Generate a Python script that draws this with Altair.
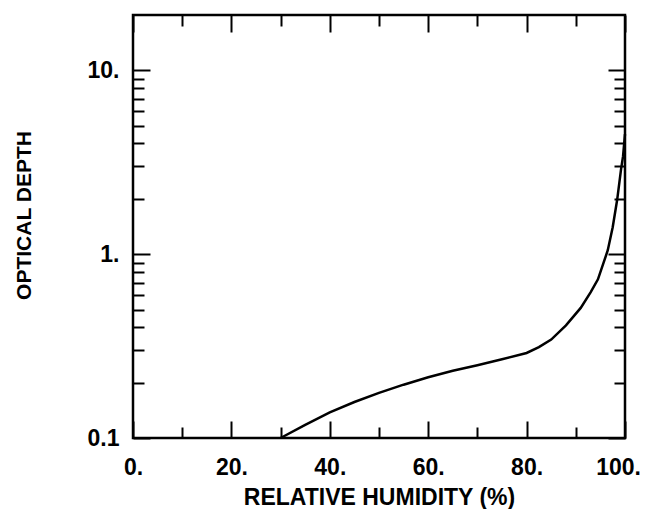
import altair as alt
import pandas as pd

# Curve
rh = [30, 35, 40, 45, 50, 55, 60, 65, 70, 75, 80, 82.5, 85, 88, 91, 93, 94.5, 96.5, 97.5, 98.4, 99.2, 99.6, 100]
tau = [0.100, 0.118, 0.138, 0.157, 0.176, 0.195, 0.214, 0.232, 0.249, 0.268, 0.290, 0.312, 0.343, 0.41, 0.51, 0.62, 0.73, 1.05, 1.4, 1.97, 2.9, 3.4, 4.5]

x_major = [0, 20, 40, 60, 80, 100]
x_minor = [10, 30, 50, 70, 90]
y_major = [0.1, 1, 10]
y_minor = [0.2, 0.3, 0.4, 0.5, 0.6, 0.7, 0.8, 0.9, 2, 3, 4, 5, 6, 7, 8, 9]

x_title = "RELATIVE HUMIDITY (%)"
y_title = "OPTICAL DEPTH"

df = pd.DataFrame({"rh": rh, "tau": tau})

FONT = "Liberation Sans"
W, H = 492, 423
XDOM = [0, 100]
YDOM = [0.1, 20]
MAJ, MIN = 17, 11


def tick_axis(orient, values, size, **kw):
    base = dict(orient=orient, values=values, tickSize=size, offset=-size,
                domain=False, grid=False, tickColor="black", tickWidth=2,
                labelFlush=False, labelOverlap=False)
    base.update(kw)
    if "labels" not in kw:
        base["labels"] = False
    if "title" not in kw:
        base["title"] = None
    return alt.Axis(**base)


def layer(xaxis, yaxis, visible):
    mark = alt.Chart(df).mark_line(color="black", strokeWidth=2.5,
                                   opacity=1 if visible else 0)
    return mark.encode(
        x=alt.X("rh:Q", scale=alt.Scale(domain=XDOM, nice=False, zero=False), axis=xaxis),
        y=alt.Y("tau:Q", scale=alt.Scale(type="log", domain=YDOM, nice=False), axis=yaxis),
    )


x_lab = dict(labels=True, labelExpr="datum.value + '.'", labelFont=FONT,
             labelFontWeight="bold", labelFontSize=23, labelColor="black",
             labelPadding=18,
             labelOffset={"condition": {"test": "datum.value === 100", "value": -7}, "value": 0},
             title=x_title, titleFont=FONT, titleFontWeight="bold",
             titleFontSize=23, titleColor="black", titlePadding=7)
y_lab = dict(labels=True,
             labelExpr="datum.value < 0.5 ? '0.1' : datum.value + '.'",
             labelFont=FONT, labelFontWeight="bold", labelFontSize=23,
             labelColor="black", labelPadding=14, labelBaseline="middle",
             title=y_title, titleFont=FONT, titleFontWeight="bold", titleFontSize=21,
             titleColor="black", titlePadding=53, titleY=200)

l1 = layer(tick_axis("bottom", x_major, MAJ, **x_lab), tick_axis("left", y_major, MAJ, **y_lab), True)
l2 = layer(tick_axis("bottom", x_minor, MIN), tick_axis("left", y_minor, MIN), False)
l3 = layer(tick_axis("top", x_major, MAJ), tick_axis("right", y_major, MAJ), False)
l4 = layer(tick_axis("top", x_minor, MIN), tick_axis("right", y_minor, MIN), False)

chart = (
    alt.layer(l1, l2, l3, l4)
    .resolve_scale(x="independent", y="independent")
    .properties(width=W, height=H, background="white",
                autosize=alt.AutoSizeParams(type="none"),
                padding={"left": 125, "top": 7, "right": 16, "bottom": 71})
    .configure_view(stroke="black", strokeWidth=2.5)
)

chart.save("out.html", embed_options={"renderer": "svg", "actions": False})
